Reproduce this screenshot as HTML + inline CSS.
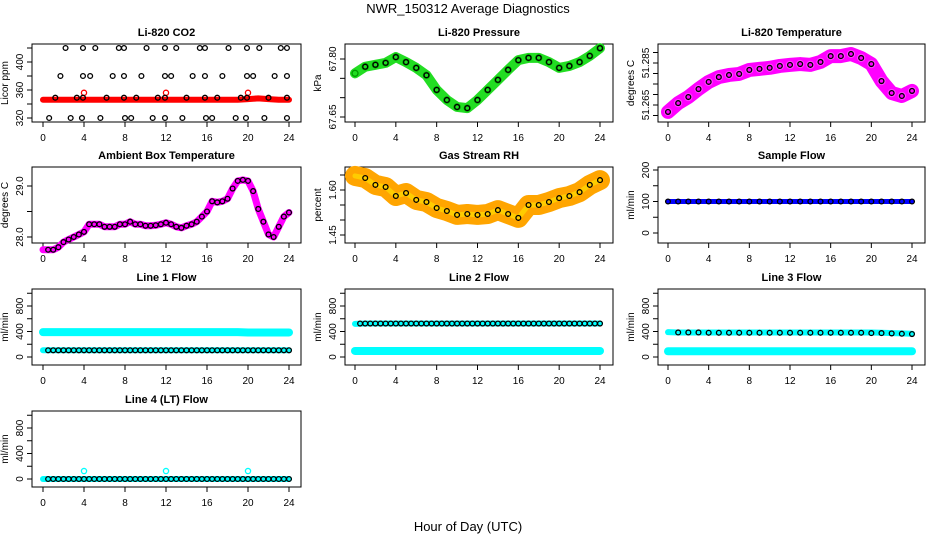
<!DOCTYPE html>
<html><head><meta charset="utf-8"><style>
body{margin:0;background:#fff;}
svg{display:block;font-family:"Liberation Sans",sans-serif;}
</style></head><body>
<svg id="chart" width="936" height="540" viewBox="0 0 936 540" xmlns="http://www.w3.org/2000/svg">
<text x="468" y="13" font-size="13" text-anchor="middle">NWR_150312  Average Diagnostics</text>
<text x="468" y="531" font-size="13" text-anchor="middle">Hour of Day (UTC)</text>
</svg>
<script>
// ---- data ----
var hours = [0,1,2,3,4,5,6,7,8,9,10,11,12,13,14,15,16,17,18,19,20,21,22,23,24];
var halfHours = [0,0.5,1,1.5,2,2.5,3,3.5,4,4.5,5,5.5,6,6.5,7,7.5,8,8.5,9,9.5,10,10.5,11,11.5,12,12.5,13,13.5,14,14.5,15,15.5,16,16.5,17,17.5,18,18.5,19,19.5,20,20.5,21,21.5,22,22.5,23,23.5,24];
var xTicks = [0,4,8,12,16,20,24];
var co2Red = [346,346,346,346,346,346,346,346,346,346,346,346,346,346,346,346,346,346,346,346,347,348,347,346,346];
var co2Out = [[4,356],[12,356],[20,356]];
var co2High = [2.2,3.9,5.1,7.4,7.9,10.1,11.9,13,15.3,15.8,18.1,19.9,21.1,23.2,23.8];
var co2Mid = [1.7,3.9,4.6,6.8,7.9,9.6,11.9,12.5,14.6,15.8,17.5,19.9,20.5,22.6,23.8];
var co2Base = [1.2,3.3,3.9,6.2,7.9,9.1,11.2,11.9,14,15.8,17,19.3,19.9,22,23.8];
var co2Low = [0.6,2.7,3.8,5.6,8,8.6,10.7,11.9,13.6,15.9,16.5,18.8,19.8,21.6,23.8];
var pressure = [67.763,67.78,67.785,67.79,67.805,67.792,67.777,67.758,67.72,67.694,67.676,67.673,67.694,67.72,67.746,67.772,67.797,67.803,67.803,67.792,67.777,67.782,67.792,67.808,67.828];
var licorTemp = [51.2617,51.2659,51.2688,51.2726,51.276,51.2783,51.2793,51.2798,51.2817,51.2822,51.2827,51.2836,51.2841,51.2845,51.2841,51.2855,51.2883,51.2883,51.2893,51.2874,51.2845,51.2764,51.2707,51.2693,51.2717];
var ambientTemp = [27.75,27.75,27.75,27.8,27.9,27.95,28.0,28.05,28.1,28.25,28.25,28.25,28.2,28.2,28.2,28.25,28.25,28.3,28.25,28.25,28.22,28.22,28.23,28.25,28.28,28.25,28.2,28.18,28.22,28.25,28.3,28.4,28.5,28.7,28.68,28.7,28.75,28.95,29.1,29.12,29.1,28.9,28.55,28.3,28.05,28.0,28.2,28.4,28.48];
var rh = [1.647,1.64,1.617,1.61,1.58,1.59,1.567,1.56,1.54,1.53,1.517,1.52,1.517,1.52,1.533,1.52,1.507,1.55,1.55,1.56,1.573,1.58,1.593,1.617,1.633];
var sampleFlow = [100,100,100,100,100,100,100,100,100,100,100,100,100,100,100,100,100,100,100,100,100,100,100,100,100];
var line1Cyan = [390,390,390,390,390,390,390,390,390,390,390,390,390,390,390,390,390,390,390,390,385,385,385,385,385];
var line1Black = [105,105,105,105,105,105,105,105,105,105,105,105,105,105,105,105,105,105,105,105,105,105,105,105,105];
var line2CyanHi = [520,525,525,525,525,525,525,525,525,525,525,525,525,525,525,525,525,525,525,525,525,525,525,525,525];
var line2CyanLo = [95,95,95,95,95,95,95,95,95,95,95,95,95,95,95,95,95,95,95,95,95,95,95,95,95];
var line2Black = [525,525,525,525,525,525,525,525,525,525,525,525,525,525,525,525,525,525,525,525,525,525,525,525,525];
var line3CyanHi = [390,385,385,385,385,385,385,385,385,385,385,385,385,385,385,385,385,385,385,385,385,380,375,370,365];
var line3CyanLo = [90,90,90,90,90,90,90,90,90,90,90,90,90,90,90,90,90,90,90,90,90,90,90,90,90];
var line3Black = [385,385,385,385,380,380,380,380,380,380,380,380,380,380,380,380,380,380,380,380,375,375,370,365,360];
var line4Cyan = [0,0,0,0,0,0,0,0,0,0,0,0,0,0,0,0,0,0,0,0,0,0,0,0,0];
var line4Out = [[4,125],[12,125],[20,125]];
var line4Black = [0,0,0,0,0,0,0,0,0,0,0,0,0,0,0,0,0,0,0,0,0,0,0,0,0];

// ---- drawing ----
var NS = "http://www.w3.org/2000/svg";
var svg = document.getElementById("chart");
var colL = [32,345,658], colR = [301,613,925], colX0 = [43,355,668], colX24 = [289,600,912];
var rowT = [44,167,289,411], rowB = [122,243,365,487];
function mk(tag, attrs, parent){var e=document.createElementNS(NS,tag);for(var k in attrs)e.setAttribute(k,attrs[k]);(parent||svg).appendChild(e);return e;}
function panel(name,r,c,title,ytitle,v1,y1,v2,y2,yticks,ylabels){
  var g=mk("g",{});
  
  
  var L=colL[c],R=colR[c],T=rowT[r],B=rowB[r];
  var sx=function(h){return colX0[c]+(colX24[c]-colX0[c])*h/24;};
  var sy=function(v){return y1+(v-v1)*(y2-y1)/(v2-v1);};
  var t=mk("text",{x:(L+R)/2,y:T-8,"font-size":11,"font-weight":"bold","text-anchor":"middle"},g);t.textContent=title;
  
  
  var yt=mk("text",{x:0,y:0,"font-size":10,"text-anchor":"middle",transform:"translate("+(L-24)+","+((T+B)/2)+") rotate(-90)"},g);yt.textContent=ytitle;
  
  
  var box=mk("rect",{x:L,y:T,width:R-L,height:B-T,fill:"none",stroke:"#000","stroke-width":1},g);
  
  
  xTicks.forEach(function(h){
    var x=sx(h);
    var tk=mk("line",{x1:x,x2:x,y1:B,y2:B+5,stroke:"#000"},g);
    
    
    var lb=mk("text",{x:x,y:B+19,"font-size":10,"text-anchor":"middle"},g);lb.textContent=h;
    
    
  });
  yticks.forEach(function(v,i){
    var y=sy(v);
    var tk=mk("line",{x1:L-5,x2:L,y1:y,y2:y,stroke:"#000"},g);
    
    
    if(ylabels[i]){var lb=mk("text",{x:0,y:0,"font-size":10,"text-anchor":"middle",transform:"translate("+(L-9)+","+y+") rotate(-90)"},g);lb.textContent=ylabels[i];
    
    }
  });
  return {g:g,sx:sx,sy:sy};
}
function band(p,xs,vals,color,w,name){
  var pts=xs.map(function(h,i){return p.sx(h)+","+p.sy(vals[i]);}).join(" ");
  var e=mk("polyline",{points:pts,fill:"none",stroke:color,"stroke-width":w,"stroke-linecap":"round","stroke-linejoin":"round"},p.g);
  
  
}
function dots(p,xs,vals,color,name,r){
  xs.forEach(function(h,i){
    var e=mk("circle",{cx:p.sx(h),cy:p.sy(vals[i]),r:r||2.4,fill:"none",stroke:color,"stroke-width":1.3},p.g);
    
    
  });
}
function pairs(p,arr,color,name){arr.forEach(function(a){
  var e=mk("circle",{cx:p.sx(a[0]),cy:p.sy(a[1]),r:2.6,fill:"none",stroke:color,"stroke-width":1.3},p.g);
  
  
});}
function constArr(xs,v){return xs.map(function(){return v;});}

// CO2
var p=panel("co2",0,0,"Li-820 CO2","Licor ppm",320,118,400,62,[320,340,360,380,400,420],["320","","360","","400",""]);
band(p,hours,co2Red,"#ff0000",6,"co2-red-series");
pairs(p,co2Out,"#ff0000","co2-red-outlier");
dots(p,co2High,constArr(co2High,420),"#000","co2-black-point");
dots(p,co2Mid,constArr(co2Mid,380),"#000","co2-black-point");
dots(p,co2Base,constArr(co2Base,349),"#000","co2-black-point");
dots(p,co2Low,constArr(co2Low,320),"#000","co2-black-point");
// Pressure
p=panel("pressure",0,1,"Li-820 Pressure","kPa",67.65,117,67.80,59,[67.65,67.70,67.75,67.80],["67.65","","","67.80"]);
band(p,hours,pressure,"#22dd22",10,"pressure-green-series");
dots(p,hours,pressure,"#009900","pressure-green-point",3);
dots(p,hours.slice(1),pressure.slice(1),"#000","pressure-black-point");
// Licor temp
p=panel("licor-temp",0,2,"Li-820 Temperature","degrees C",51.265,105,51.285,63,[51.260,51.265,51.270,51.275,51.280,51.285,51.290],["","51.265","","","","51.285",""]);
band(p,hours,licorTemp,"#ff00ff",14,"licor-temp-magenta-series");
dots(p,hours,licorTemp,"#ff44ff","licor-temp-magenta-point",3.5);
dots(p,hours,licorTemp,"#000","licor-temp-black-point");
// Ambient
p=panel("ambient-temp",1,0,"Ambient Box Temperature","degrees C",28.0,237,29.0,186,[28.0,28.5,29.0],["28.0","","29.0"]);
band(p,halfHours,ambientTemp,"#ff00ff",7,"ambient-magenta-series");
dots(p,halfHours.slice(1),ambientTemp.slice(1),"#000","ambient-black-point");
// RH
p=panel("rh",1,1,"Gas Stream RH","percent",1.45,235,1.60,190,[1.45,1.50,1.55,1.60,1.65],["1.45","","","1.60",""]);
band(p,hours,rh,"#ffa500",20,"rh-orange-series");
band(p,hours,rh,"#ffcc00",5,"rh-yellow-series");
dots(p,hours.slice(1),rh.slice(1),"#000","rh-black-point");
// Sample flow
p=panel("sample-flow",1,2,"Sample Flow","ml/min",0,233,200,170,[0,50,100,150,200],["0","","100","","200"]);
band(p,hours,sampleFlow,"#0000ff",5,"sample-flow-blue-series");
dots(p,hours,sampleFlow,"#000","sample-flow-black-point");
// Line 1
p=panel("line1-flow",2,0,"Line 1 Flow","ml/min",0,357,800,306,[0,200,400,600,800,1000],["0","","400","","800",""]);
band(p,hours,line1Cyan,"#00ffff",8,"line1-cyan-series");
band(p,hours,line1Black,"#00ffff",6,"line1-cyan-low");
dots(p,halfHours.slice(1),constArr(halfHours.slice(1),line1Black[0]),"#000","line1-black-point");
// Line 2
p=panel("line2-flow",2,1,"Line 2 Flow","ml/min",0,357,800,306,[0,200,400,600,800,1000],["0","","400","","800",""]);
band(p,hours,line2CyanHi,"#00ffff",6,"line2-cyan-high");
band(p,hours,line2CyanLo,"#00ffff",8,"line2-cyan-low");
dots(p,halfHours.slice(1),constArr(halfHours.slice(1),line2Black[0]),"#000","line2-black-point");
// Line 3
p=panel("line3-flow",2,2,"Line 3 Flow","ml/min",0,357,800,306,[0,200,400,600,800,1000],["0","","400","","800",""]);
band(p,hours,line3CyanHi,"#00ffff",6,"line3-cyan-high");
band(p,hours,line3CyanLo,"#00ffff",8,"line3-cyan-low");
dots(p,hours.slice(1),line3Black.slice(1),"#000","line3-black-point");
// Line 4
p=panel("line4-flow",3,0,"Line 4 (LT) Flow","ml/min",0,479,800,428,[0,200,400,600,800,1000],["0","","400","","800",""]);
band(p,hours,line4Cyan,"#00ffff",6,"line4-cyan-series");
pairs(p,line4Out,"#00ffff","line4-cyan-outlier");
dots(p,halfHours.slice(1),constArr(halfHours.slice(1),line4Black[0]),"#000","line4-black-point");
</script>
</body></html>
